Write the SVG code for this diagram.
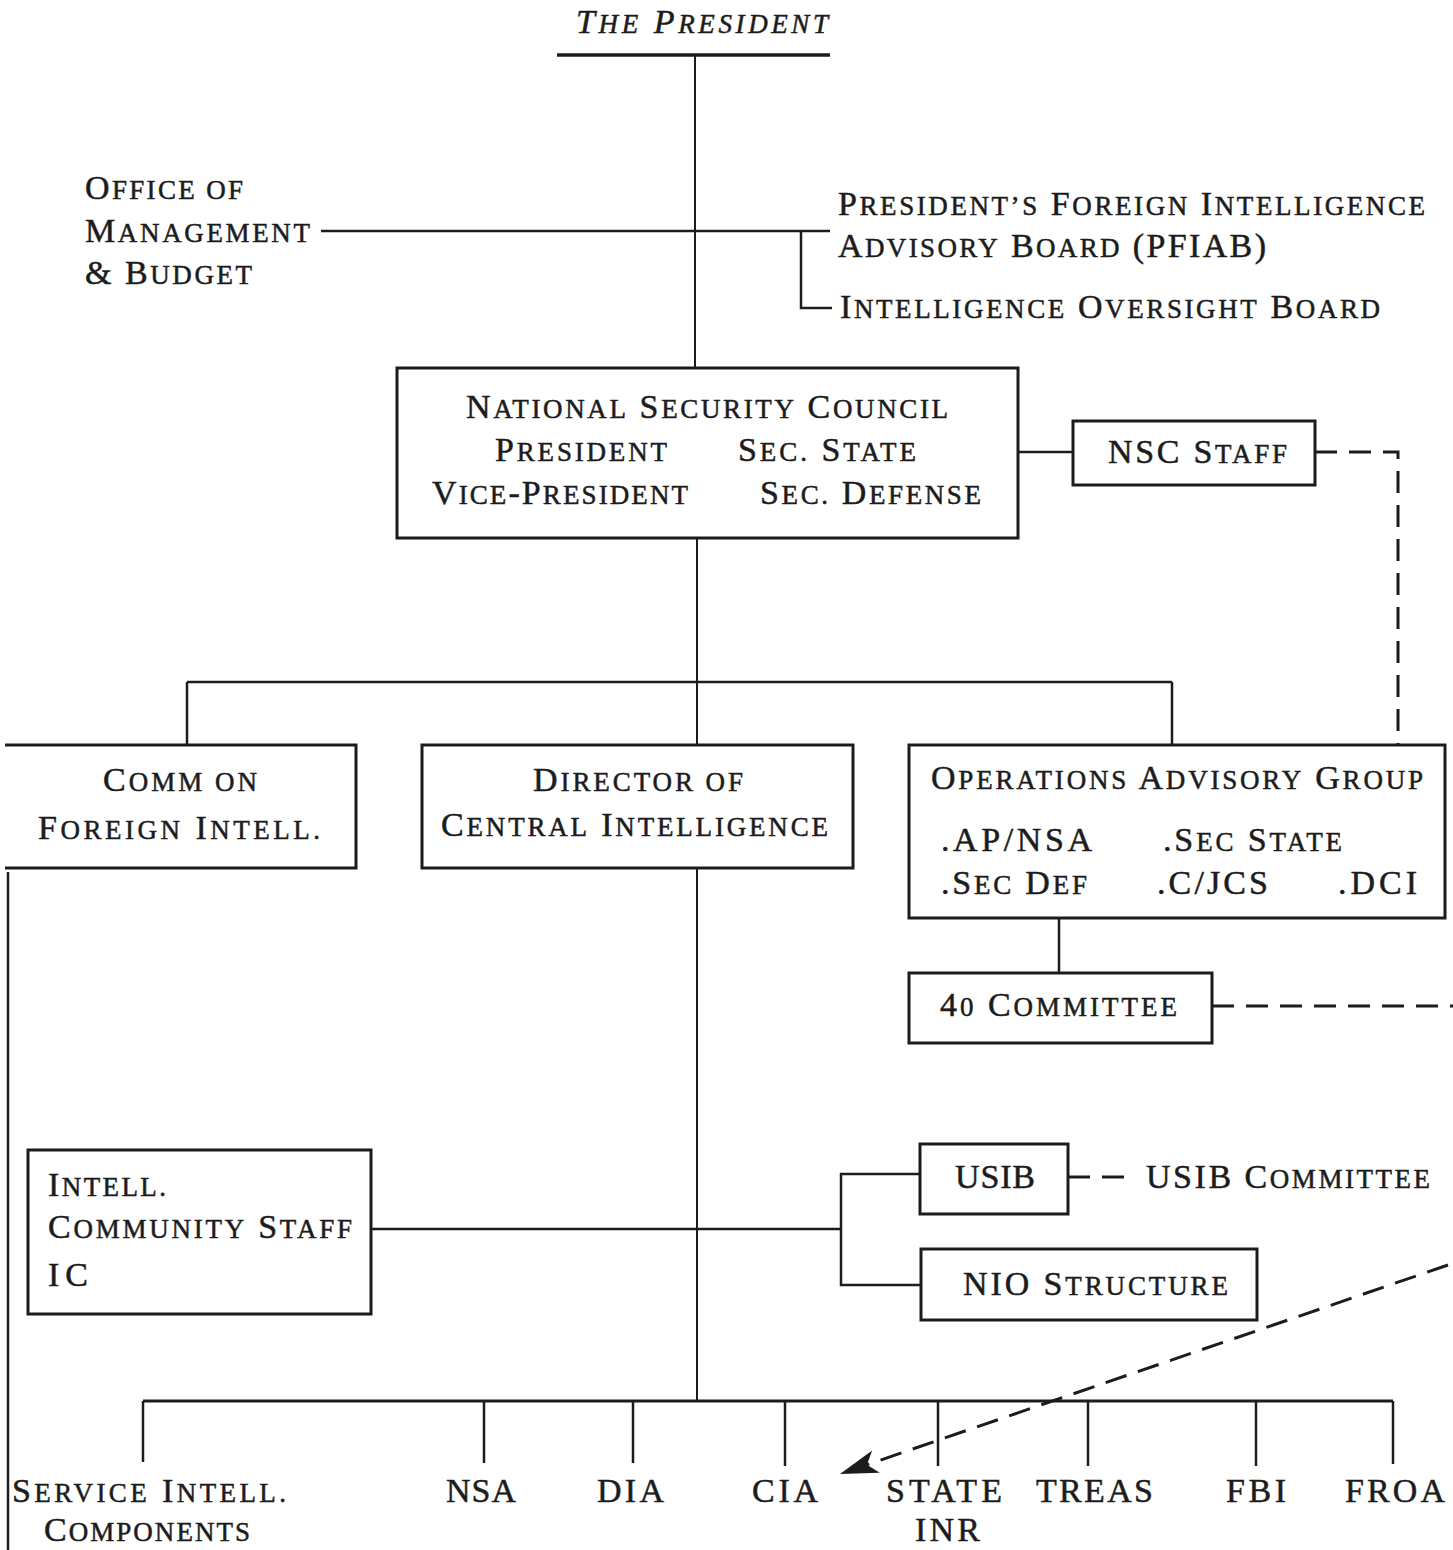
<svg xmlns="http://www.w3.org/2000/svg" width="1453" height="1550" viewBox="0 0 1453 1550">
<defs>
<style>
text{font-family:"Liberation Serif","Times New Roman",serif;font-size:34px;fill:#1c1c1c;stroke:#1c1c1c;stroke-width:0.5}
.s{font-size:27px}
.it{font-style:italic}
.box{fill:none;stroke:#1c1c1c;stroke-width:3}
.ln{fill:none;stroke:#1c1c1c;stroke-width:2.5}
.thin{fill:none;stroke:#1c1c1c;stroke-width:2}
.dash{fill:none;stroke:#1c1c1c;stroke-width:3;stroke-dasharray:22 12}
</style>
<marker id="ah" viewBox="0 0 10 10" refX="10" refY="5" markerWidth="38" markerHeight="26" markerUnits="userSpaceOnUse" orient="auto" preserveAspectRatio="none">
<path d="M0,0.5 L10,5 L0,9.5 L2.5,5 z" fill="#1c1c1c"/>
</marker>
</defs>
<rect width="1453" height="1550" fill="#fff"/>

<g id="connectors">
<line x1="557" y1="55" x2="830" y2="55" stroke="#1c1c1c" stroke-width="3.5"/>
<line class="thin" x1="695" y1="55" x2="695" y2="368"/>
<line class="ln" x1="321" y1="231" x2="830" y2="231"/>
<path class="ln" d="M801,231 V308 H832"/>
<line class="ln" x1="1018" y1="452" x2="1073" y2="452"/>
<path class="dash" d="M1315,452 H1398 V745" stroke-dasharray="18 12"/>
<line class="thin" x1="697" y1="538" x2="697" y2="745"/>
<line class="ln" x1="187" y1="682" x2="1172" y2="682"/>
<line class="ln" x1="187" y1="682" x2="187" y2="745"/>
<line class="ln" x1="1172" y1="682" x2="1172" y2="745"/>
<line class="ln" x1="1059" y1="918" x2="1059" y2="973"/>
<line class="dash" x1="1212" y1="1006" x2="1453" y2="1006" stroke-dasharray="30 12"/>
<line class="thin" x1="697" y1="868" x2="697" y2="1401"/>
<line class="ln" x1="371" y1="1229" x2="841" y2="1229"/>
<path class="ln" d="M920,1174 H841 V1285 H921"/>
<path class="dash" d="M1068,1177 H1132" stroke-dasharray="10 7 20 0"/>
<line x1="143" y1="1401" x2="1393" y2="1401" stroke="#1c1c1c" stroke-width="3"/>
<path class="ln" d="M143,1401 V1462 M484,1401 V1463 M633,1401 V1463 M785,1401 V1466 M938,1401 V1466 M1088,1401 V1466 M1256,1401 V1466 M1393,1401 V1464"/>
<line class="dash" x1="1448" y1="1265" x2="840" y2="1474" stroke-dasharray="26 12" marker-end="url(#ah)"/>
<line x1="8" y1="872" x2="8" y2="1550" stroke="#1c1c1c" stroke-width="2.5"/>
</g>

<g id="president">
<text class="it" x="576" y="33" textLength="252" lengthAdjust="spacing">T<tspan class="s">HE</tspan> P<tspan class="s">RESIDENT</tspan></text>
</g>

<g id="omb">
<text x="85" y="199" textLength="158" lengthAdjust="spacing">O<tspan class="s">FFICE OF</tspan></text>
<text x="85" y="242" textLength="225" lengthAdjust="spacing">M<tspan class="s">ANAGEMENT</tspan></text>
<text x="85" y="284" textLength="167" lengthAdjust="spacing">&amp; B<tspan class="s">UDGET</tspan></text>
</g>

<g id="pfiab">
<text x="838" y="215" textLength="587" lengthAdjust="spacing">P<tspan class="s">RESIDENT’S</tspan> F<tspan class="s">OREIGN</tspan> I<tspan class="s">NTELLIGENCE</tspan></text>
<text x="838" y="257" textLength="428" lengthAdjust="spacing">A<tspan class="s">DVISORY</tspan> B<tspan class="s">OARD</tspan> (PFIAB)</text>
</g>

<g id="iob">
<text x="840" y="318" textLength="540" lengthAdjust="spacing">I<tspan class="s">NTELLIGENCE</tspan> O<tspan class="s">VERSIGHT</tspan> B<tspan class="s">OARD</tspan></text>
</g>

<g id="nsc">
<rect class="box" x="397" y="368" width="621" height="170"/>
<text x="466" y="418" textLength="482" lengthAdjust="spacing">N<tspan class="s">ATIONAL</tspan> S<tspan class="s">ECURITY</tspan> C<tspan class="s">OUNCIL</tspan></text>
<text x="495" y="461" textLength="172" lengthAdjust="spacing">P<tspan class="s">RESIDENT</tspan></text>
<text x="738" y="461" textLength="178" lengthAdjust="spacing">S<tspan class="s">EC.</tspan> S<tspan class="s">TATE</tspan></text>
<text x="432" y="504" textLength="256" lengthAdjust="spacing">V<tspan class="s">ICE</tspan>-P<tspan class="s">RESIDENT</tspan></text>
<text x="760" y="504" textLength="221" lengthAdjust="spacing">S<tspan class="s">EC.</tspan> D<tspan class="s">EFENSE</tspan></text>
</g>

<g id="nsc-staff">
<rect class="box" x="1073" y="421" width="242" height="64"/>
<text x="1108" y="463" textLength="179" lengthAdjust="spacing">NSC S<tspan class="s">TAFF</tspan></text>
</g>

<g id="comm">
<path class="box" d="M5,745 H356 V868 H5"/>
<text x="103" y="791" textLength="154" lengthAdjust="spacing">C<tspan class="s">OMM ON</tspan></text>
<text x="38" y="839" textLength="282" lengthAdjust="spacing">F<tspan class="s">OREIGN</tspan>  I<tspan class="s">NTELL.</tspan></text>
</g>

<g id="dci">
<rect class="box" x="422" y="745" width="431" height="123"/>
<text x="533" y="791" textLength="210" lengthAdjust="spacing">D<tspan class="s">IRECTOR OF</tspan></text>
<text x="441" y="836" textLength="387" lengthAdjust="spacing">C<tspan class="s">ENTRAL</tspan> I<tspan class="s">NTELLIGENCE</tspan></text>
</g>

<g id="oag">
<rect class="box" x="909" y="745" width="536" height="173"/>
<text x="931" y="789" textLength="492" lengthAdjust="spacing">O<tspan class="s">PERATIONS</tspan> A<tspan class="s">DVISORY</tspan> G<tspan class="s">ROUP</tspan></text>
<text x="941" y="851" textLength="151" lengthAdjust="spacing">.AP/NSA</text>
<text x="1163" y="851" textLength="179" lengthAdjust="spacing">.S<tspan class="s">EC</tspan> S<tspan class="s">TATE</tspan></text>
<text x="941" y="894" textLength="146" lengthAdjust="spacing">.S<tspan class="s">EC</tspan> D<tspan class="s">EF</tspan></text>
<text x="1157" y="894" textLength="111" lengthAdjust="spacing">.C/JCS</text>
<text x="1338" y="894" textLength="79" lengthAdjust="spacing">.DCI</text>
</g>

<g id="forty">
<rect class="box" x="909" y="973" width="303" height="70"/>
<text x="940" y="1016" textLength="237" lengthAdjust="spacing">4<tspan class="s">0</tspan> C<tspan class="s">OMMITTEE</tspan></text>
</g>

<g id="ics">
<rect class="box" x="28" y="1150" width="343" height="164"/>
<text x="48" y="1196" textLength="118" lengthAdjust="spacing">I<tspan class="s">NTELL.</tspan></text>
<text x="48" y="1238" textLength="304" lengthAdjust="spacing">C<tspan class="s">OMMUNITY</tspan> S<tspan class="s">TAFF</tspan></text>
<text x="48" y="1286" textLength="40" lengthAdjust="spacing">IC</text>
</g>

<g id="usib">
<rect class="box" x="920" y="1144" width="148" height="70"/>
<text x="955" y="1188" textLength="80" lengthAdjust="spacing">USIB</text>
</g>

<g id="usib-committee">
<text x="1146" y="1188" textLength="284" lengthAdjust="spacing">USIB C<tspan class="s">OMMITTEE</tspan></text>
</g>

<g id="nio">
<rect class="box" x="921" y="1249" width="336" height="71"/>
<text x="963" y="1295" textLength="265" lengthAdjust="spacing">NIO S<tspan class="s">TRUCTURE</tspan></text>
</g>

<g id="service">
<text x="12" y="1502" textLength="274" lengthAdjust="spacing">S<tspan class="s">ERVICE</tspan>  I<tspan class="s">NTELL.</tspan></text>
<text x="44" y="1541" textLength="206" lengthAdjust="spacing">C<tspan class="s">OMPONENTS</tspan></text>
</g>
<g id="nsa"><text x="446" y="1502" textLength="70" lengthAdjust="spacing">NSA</text></g>
<g id="dia"><text x="597" y="1502" textLength="67" lengthAdjust="spacing">DIA</text></g>
<g id="cia"><text x="752" y="1502" textLength="66" lengthAdjust="spacing">CIA</text></g>
<g id="state">
<text x="886" y="1502" textLength="116" lengthAdjust="spacing">STATE</text>
<text x="915" y="1541" textLength="65" lengthAdjust="spacing">INR</text>
</g>
<g id="treas"><text x="1036" y="1502" textLength="117" lengthAdjust="spacing">TREAS</text></g>
<g id="fbi"><text x="1226" y="1502" textLength="60" lengthAdjust="spacing">FBI</text></g>
<g id="froa"><text x="1345" y="1502" textLength="100" lengthAdjust="spacing">FROA</text></g>
</svg>
